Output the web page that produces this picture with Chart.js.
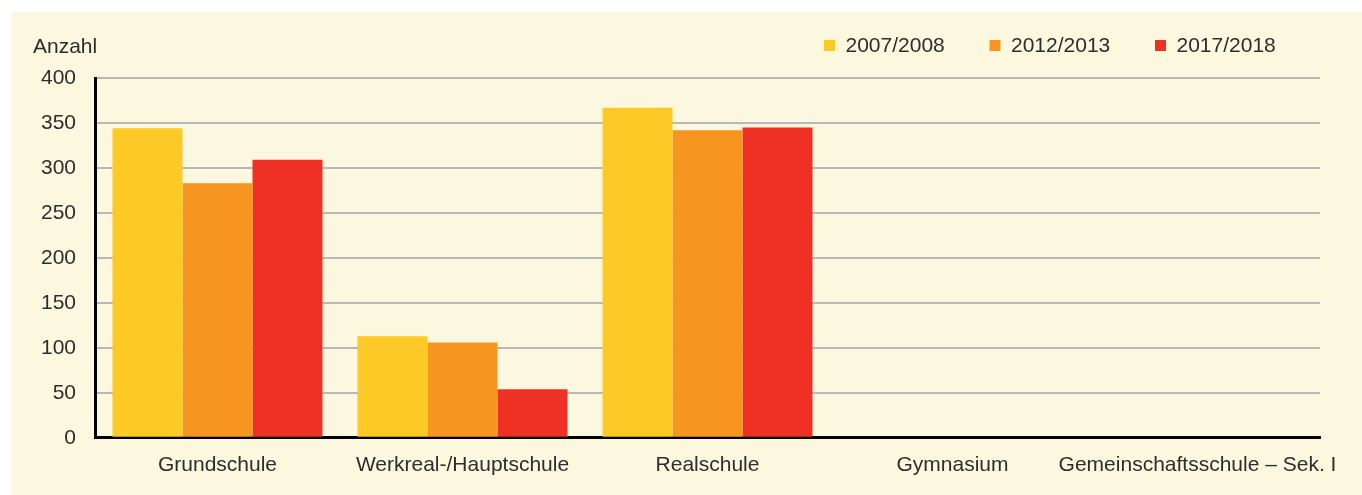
<!DOCTYPE html>
<html>
<head>
<meta charset="utf-8">
<script src="https://cdn.jsdelivr.net/npm/chart.js@4/dist/chart.umd.min.js"></script>
<style>
  body { margin: 0; background: #ffffff; width: 1362px; height: 495px; overflow: hidden; }
  #panel { position: absolute; left: 11px; top: 12px; width: 1351px; height: 483px; background: #fbf8df; }
</style>
</head>
<body>
<div id="panel"><canvas id="schulChart"></canvas></div>
<script>
// categories + values
const categories = ["Grundschule", "Werkreal-/Hauptschule", "Realschule", "Gymnasium", "Gemeinschaftsschule \u2013 Sek. I"];
const years = ["2007/2008", "2012/2013", "2017/2018"];
const v2007 = [344, 113, 367, null, null];
const v2012 = [283, 106, 342, null, null];
const v2017 = [309, 54, 345, null, null];
const yTicks = [0, 50, 100, 150, 200, 250, 300, 350, 400];

const colors = ["#fdc926", "#f79521", "#ee3124"];
const textColor = "#2d2d2d";
const fontFam = "'Liberation Sans', Arial, sans-serif";

// legend + "Anzahl" drawn by hand (built-in legend padding can't match the layout)
const topTexts = {
    id: "topTexts",
    afterDraw(chart) {
        const ctx = chart.ctx;
        ctx.save();
        ctx.font = "21px " + fontFam;
        ctx.fillStyle = textColor;
        ctx.textBaseline = "middle";
        ctx.textAlign = "left";
        ctx.fillText("Anzahl", 22, 35);
        chart.data.datasets.forEach((ds, i) => {
            const x = 813 + i * 165.5;
            ctx.fillStyle = ds.backgroundColor;
            ctx.fillRect(x, 28, 11, 11);
            ctx.fillStyle = textColor;
            ctx.fillText(ds.label, x + 21.5, 34);
        });
        ctx.restore();
    }
};

new Chart("schulChart", {
    type: "bar",
    data: {
        labels: categories,
        datasets: [
            { label: years[0], data: v2007, backgroundColor: colors[0] },
            { label: years[1], data: v2012, backgroundColor: colors[1] },
            { label: years[2], data: v2017, backgroundColor: colors[2] }
        ]
    },
    options: {
        responsive: true,
        maintainAspectRatio: false,
        animation: false,
        categoryPercentage: 0.857,
        barPercentage: 1,
        layout: { padding: { left: 11, right: 42, top: 66, bottom: 2 } },
        plugins: {
            legend: { display: false },
            tooltip: { enabled: false }
        },
        scales: {
            x: {
                grid: { display: false, drawTicks: false, tickLength: 0 },
                border: { display: true, color: "#000000", width: 3 },
                ticks: {
                    color: textColor,
                    font: { family: fontFam, size: 21 },
                    padding: 15,
                    maxRotation: 0,
                    autoSkip: false
                }
            },
            y: {
                min: 0,
                max: 400,
                afterFit: (s) => { s.width = 73; },
                afterBuildTicks: (s) => { s.ticks = yTicks.map(v => ({ value: v })); },
                grid: { color: "#b8b8b8", lineWidth: 2, drawTicks: false, tickLength: 0 },
                border: { display: true, color: "#000000", width: 3 },
                ticks: {
                    color: textColor,
                    font: { family: fontFam, size: 21 },
                    padding: 19
                }
            }
        }
    },
    plugins: [topTexts]
});
</script>
</body>
</html>
